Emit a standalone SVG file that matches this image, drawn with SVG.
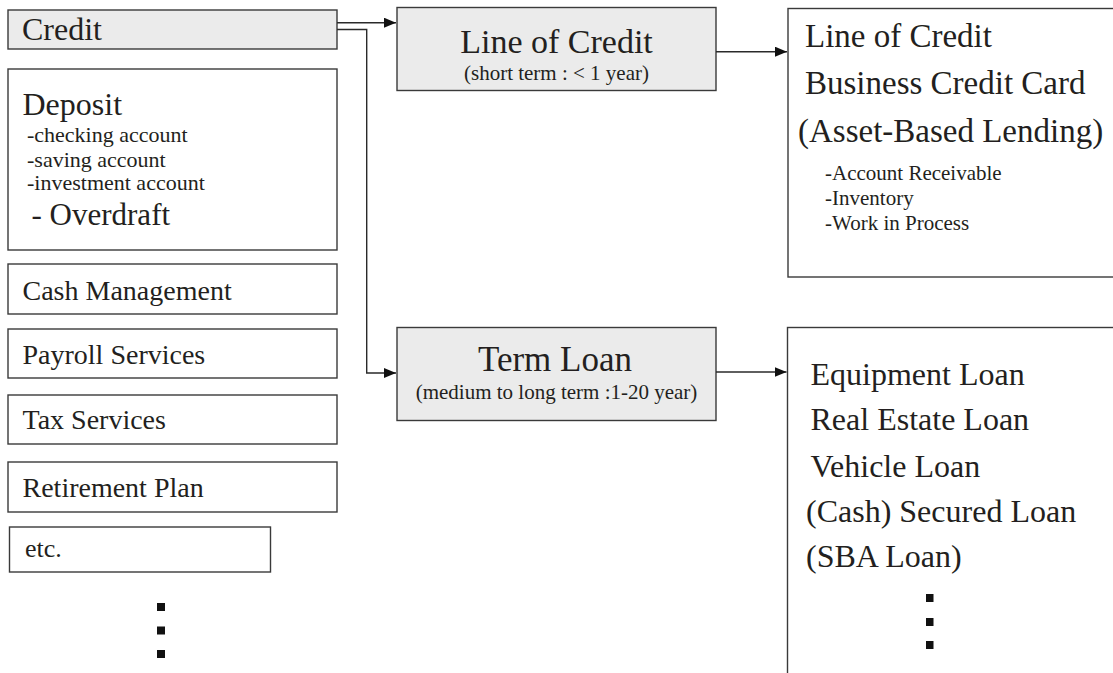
<svg xmlns="http://www.w3.org/2000/svg" width="1113" height="673" viewBox="0 0 1113 673">
  <style>
    .box { fill: #ffffff; stroke: #3a3a3a; stroke-width: 1.4; }
    .hl { fill: #ebebeb; stroke: #3a3a3a; stroke-width: 1.4; }
    .wire { fill: none; stroke: #2a2a2a; stroke-width: 1.4; }
    .dot { fill: #111111; }
  </style>
  <defs>
    <marker id="arrow" viewBox="0 0 12 10" refX="12" refY="5" markerWidth="12" markerHeight="10" markerUnits="userSpaceOnUse" orient="auto">
      <path d="M0,0 L12,5 L0,10 z" fill="#111111"/>
    </marker>
  </defs>

  <!-- left column: service categories -->
  <g id="credit">
    <rect class="hl" x="8" y="10" width="329" height="39"/>
    <text x="22" y="40" font-family="Liberation Serif" font-size="32" fill="#231f20">Credit</text>
  </g>
  <g id="deposit">
    <rect class="box" x="8" y="69" width="329" height="181"/>
    <text x="22.5" y="115" font-family="Liberation Serif" font-size="32" fill="#231f20">Deposit</text>
    <text x="27" y="141.5" font-family="Liberation Serif" font-size="22" fill="#231f20">-checking account</text>
    <text x="27" y="166.5" font-family="Liberation Serif" font-size="22" fill="#231f20">-saving account</text>
    <text x="27" y="190" font-family="Liberation Serif" font-size="22" fill="#231f20">-investment account</text>
    <text x="31.5" y="225" font-family="Liberation Serif" font-size="31" fill="#231f20">- Overdraft</text>
  </g>
  <g id="cash-management">
    <rect class="box" x="8" y="264" width="329" height="50"/>
    <text x="22.5" y="300" font-family="Liberation Serif" font-size="28" fill="#231f20">Cash Management</text>
  </g>
  <g id="payroll-services">
    <rect class="box" x="8" y="329" width="329" height="49"/>
    <text x="22.5" y="363.5" font-family="Liberation Serif" font-size="28" fill="#231f20">Payroll Services</text>
  </g>
  <g id="tax-services">
    <rect class="box" x="8" y="395" width="329" height="49"/>
    <text x="22.5" y="428.5" font-family="Liberation Serif" font-size="28" fill="#231f20">Tax Services</text>
  </g>
  <g id="retirement-plan">
    <rect class="box" x="8" y="462" width="329" height="50"/>
    <text x="22.5" y="497" font-family="Liberation Serif" font-size="28" fill="#231f20">Retirement Plan</text>
  </g>
  <g id="etc">
    <rect class="box" x="9.5" y="527" width="261" height="45"/>
    <text x="25" y="557" font-family="Liberation Serif" font-size="26" fill="#231f20">etc.</text>
  </g>
  <g id="more-left">
    <rect class="dot" x="157" y="603" width="8" height="8"/>
    <rect class="dot" x="157" y="626.5" width="8" height="8"/>
    <rect class="dot" x="157" y="650" width="8" height="8"/>
  </g>

  <!-- middle column: credit products -->
  <g id="line-of-credit">
    <rect class="hl" x="397" y="7.5" width="319" height="83"/>
    <text x="556.5" y="53" font-family="Liberation Serif" font-size="34" fill="#231f20" text-anchor="middle">Line of Credit</text>
    <text x="556.5" y="80" font-family="Liberation Serif" font-size="21" fill="#231f20" text-anchor="middle">(short term : &lt; 1 year)</text>
  </g>
  <g id="term-loan">
    <rect class="hl" x="397" y="327.5" width="319" height="93"/>
    <text x="555" y="371" font-family="Liberation Serif" font-size="35" fill="#231f20" text-anchor="middle">Term Loan</text>
    <text x="556.5" y="399" font-family="Liberation Serif" font-size="21" fill="#231f20" text-anchor="middle">(medium to long term :1-20 year)</text>
  </g>

  <!-- right column: product details -->
  <g id="line-of-credit-detail">
    <rect class="box" x="788" y="8.5" width="400" height="268.5"/>
    <text x="805" y="46.5" font-family="Liberation Serif" font-size="33" fill="#231f20">Line of Credit</text>
    <text x="805" y="93.5" font-family="Liberation Serif" font-size="33" fill="#231f20">Business Credit Card</text>
    <text x="798" y="141.5" font-family="Liberation Serif" font-size="33" fill="#231f20">(Asset-Based Lending)</text>
    <text x="825" y="180" font-family="Liberation Serif" font-size="21" fill="#231f20">-Account Receivable</text>
    <text x="825" y="205" font-family="Liberation Serif" font-size="21" fill="#231f20">-Inventory</text>
    <text x="825" y="230" font-family="Liberation Serif" font-size="21" fill="#231f20">-Work in Process</text>
  </g>
  <g id="term-loan-detail">
    <rect class="box" x="787.5" y="327.5" width="400" height="400"/>
    <text x="810.5" y="385" font-family="Liberation Serif" font-size="32" fill="#231f20">Equipment Loan</text>
    <text x="810.5" y="430" font-family="Liberation Serif" font-size="32" fill="#231f20">Real Estate Loan</text>
    <text x="810.5" y="476.5" font-family="Liberation Serif" font-size="32" fill="#231f20">Vehicle Loan</text>
    <text x="806" y="521.5" font-family="Liberation Serif" font-size="32" fill="#231f20">(Cash) Secured Loan</text>
    <text x="806" y="566.5" font-family="Liberation Serif" font-size="32" fill="#231f20">(SBA Loan)</text>
    <rect class="dot" x="926" y="594" width="7.5" height="8"/>
    <rect class="dot" x="926" y="618" width="7.5" height="8"/>
    <rect class="dot" x="926" y="641" width="7.5" height="8"/>
  </g>

  <!-- connectors -->
  <g id="connectors">
    <path class="wire" d="M337,22.7 H396" marker-end="url(#arrow)"/>
    <path class="wire" d="M337,29.5 H366.7 V373 H396" marker-end="url(#arrow)"/>
    <path class="wire" d="M716,51.7 H787" marker-end="url(#arrow)"/>
    <path class="wire" d="M716,372 H786.5" marker-end="url(#arrow)"/>
  </g>
</svg>
